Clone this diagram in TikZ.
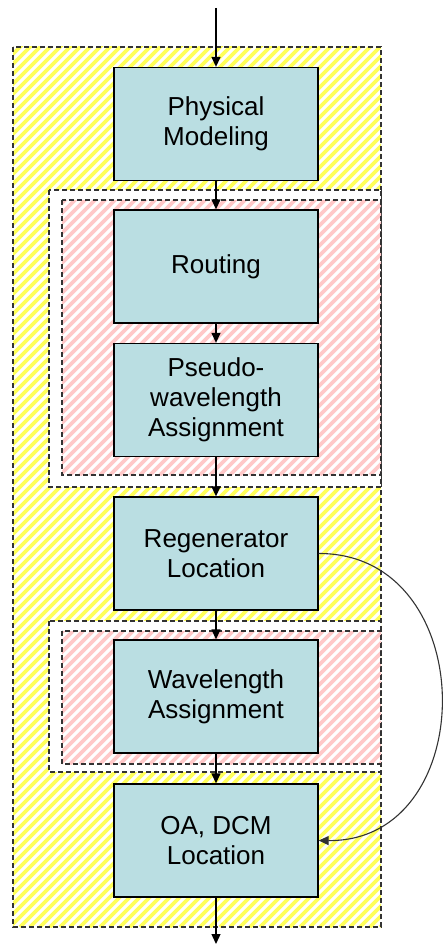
\documentclass[tikz,border=0pt]{standalone}
\usepackage{fontspec}
\setmainfont{Liberation Sans}
\usepackage{xcolor}
\usetikzlibrary{arrows.meta}
\definecolor{boxfill}{RGB}{186,222,226}
\definecolor{stripeyellow}{RGB}{255,255,90}
\definecolor{stripepink}{RGB}{255,200,200}

\newcommand{\hatchbox}[5]{%
  \begin{scope}
    \clip (#1,#2) rectangle (#3,#4);
    \foreach \s in {-900,-890,...,400}{\draw[line width=3.6pt,#5] (\s,#4) -- ++(1000,-1000);}
  \end{scope}}

\begin{document}
\begin{tikzpicture}[x=1pt,y=-1pt,
    stage/.style={draw=black,line width=1.3pt,fill=boxfill,minimum width=204pt,minimum height=113pt,
      inner sep=0pt,align=center,font=\fontsize{26}{30}\selectfont},
    region/.style={draw=black!80,line width=1.2pt,dash pattern=on 5pt off 3pt},
    flow/.style={line width=1.3pt,-{Triangle[length=10pt,width=9pt]}}]
  \useasboundingbox (0,0) rectangle (443,944);
  \fill[white] (0,0) rectangle (443,944);
  \hatchbox{13}{47}{381}{927}{stripeyellow}
  \draw[region] (13,47) rectangle (381,927);
  \draw[region,fill=white] (49,190) rectangle (381,487);
  \hatchbox{62}{200}{381}{475}{stripepink}
  \draw[region] (62,200) rectangle (381,475);
  \draw[region,fill=white] (49,621) rectangle (381,772);
  \hatchbox{62}{631}{381}{764}{stripepink}
  \draw[region] (62,631) rectangle (381,764);
  \node[stage] (phys) at (216,124) {Physical\\Modeling};
  \node[stage] (rout) at (216,266.5) {Routing};
  \node[stage] (pseudo) at (216,400) {Pseudo-\\wavelength\\Assignment};
  \node[stage] (regen) at (216,553.5) {Regenerator\\Location};
  \node[stage] (wave) at (216,696.5) {Wavelength\\Assignment};
  \node[stage] (oadcm) at (216,840.5) {OA, DCM\\Location};
  \coordinate (in) at (216,8);
  \coordinate (out) at (216,944);
  \draw[flow] (in) -- (phys);
  \draw[flow] (phys) -- (rout);
  \draw[flow] (rout) -- (pseudo);
  \draw[flow] (pseudo) -- (regen);
  \draw[flow] (regen) -- (wave);
  \draw[flow] (wave) -- (oadcm);
  \draw[flow] (oadcm) -- (out);
  \draw[flow,line width=1.1pt,black!80] (regen.east) .. controls (482,553) and (482,842) .. (oadcm.east);
\end{tikzpicture}
\end{document}
